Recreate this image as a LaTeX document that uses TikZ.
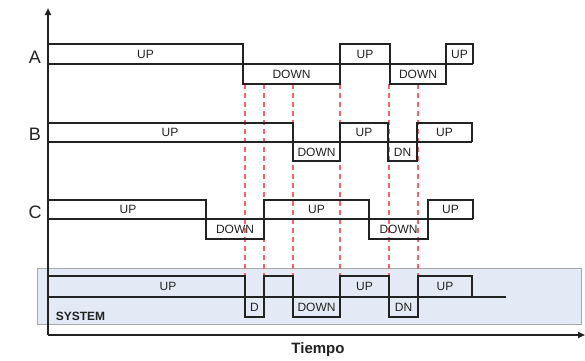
\documentclass[tikz,border=0pt]{standalone}
\usepackage{fontspec}
\setmainfont{Liberation Sans}
\usetikzlibrary{arrows.meta}
\definecolor{sysfill}{HTML}{E3EAF5}
\definecolor{sysborder}{HTML}{A8A8A8}
\definecolor{guide}{HTML}{F06565}
\definecolor{ink}{HTML}{222222}
\tikzset{
  sig/.style={draw=ink, line width=1.4pt, line join=miter},
  axisline/.style={draw=ink, line width=1.8pt, -{Triangle[length=7pt,width=6pt]}},
  guideline/.style={draw=guide, line width=1.1pt, dash pattern=on 5pt off 4pt},
  lbl/.style={inner sep=0pt, font=\fontsize{12}{12}\selectfont, text=ink},
  rowlbl/.style={inner sep=0pt, font=\fontsize{18}{18}\selectfont, text=ink},
}
\begin{document}
\begin{tikzpicture}[x=1pt,y=-1pt]
\useasboundingbox (0,0) rectangle (585,360);
\fill[white] (0,0) rectangle (585,360);

% system background
\draw[sysborder, fill=sysfill, line width=0.8pt] (37,268) rectangle (581,324);

% guide lines
\foreach \gx in {245,264,293,340,389,418}
  \draw[guideline] (\gx,84) coordinate (g\gx a) -- (\gx,276) coordinate (g\gx b);

% row A
\node[rowlbl] (lA) at (35,57) {A};
\draw[sig] (48,64) -- (473,64);
\draw[sig] (48,44) -- (243,44) -- (243,84) -- (340,84) -- (340,44) -- (390,44) -- (390,84) -- (446,84) -- (446,44) -- (473,44) -- (473,64);
\node[lbl] (a1) at (145.5,54) {UP};
\node[lbl] (a2) at (291.5,74) {DOWN};
\node[lbl] (a3) at (365,54) {UP};
\node[lbl] (a4) at (418,74) {DOWN};
\node[lbl] (a5) at (459.5,54) {UP};

% row B
\node[rowlbl] (lB) at (35,134) {B};
\draw[sig] (48,142) -- (472,142);
\draw[sig] (48,123) -- (293,123) -- (293,161) -- (340,161) -- (340,123) -- (388,123) -- (388,161) -- (417,161) -- (417,123) -- (472,123) -- (472,142);
\node[lbl] (b1) at (170,132) {UP};
\node[lbl] (b2) at (316.5,152) {DOWN};
\node[lbl] (b3) at (364,132) {UP};
\node[lbl] (b4) at (402.5,152) {DN};
\node[lbl] (b5) at (444.5,132) {UP};

% row C
\node[rowlbl] (lC) at (35,212) {C};
\draw[sig] (48,219) -- (473,219);
\draw[sig] (48,200) -- (206,200) -- (206,239) -- (264,239) -- (264,200) -- (369,200) -- (369,239) -- (428,239) -- (428,200) -- (473,200) -- (473,219);
\node[lbl] (c1) at (128,209) {UP};
\node[lbl] (c2) at (235,229) {DOWN};
\node[lbl] (c3) at (316.5,209) {UP};
\node[lbl] (c4) at (398.5,229) {DOWN};
\node[lbl] (c5) at (450.5,209) {UP};

% system
\draw[sig] (48,297) -- (506,297);
\draw[sig] (48,276) -- (245,276) -- (245,317) -- (264,317) -- (264,276) -- (293,276) -- (293,317) -- (340,317) -- (340,276) -- (389,276) -- (389,317) -- (418,317) -- (418,276) -- (472,276) -- (472,297);
\node[lbl] (s1) at (168,286) {UP};
\node[lbl] (s2) at (254.5,307) {D};
\node[lbl] (s3) at (316.5,307) {DOWN};
\node[lbl] (s4) at (364.5,286) {UP};
\node[lbl] (s5) at (403.5,307) {DN};
\node[lbl] (s6) at (445,286) {UP};
\node[inner sep=0pt, font=\bfseries\fontsize{12}{12}\selectfont, text=ink] (sys) at (80.5,316) {SYSTEM};

% axes
\coordinate (origin) at (48,335);
\coordinate (ytip) at (48,8);
\coordinate (xtip) at (585,335);
\draw[axisline] (origin) -- (ytip);
\draw[axisline] (origin) -- (xtip);
\node[inner sep=0pt, font=\bfseries\fontsize{15}{15}\selectfont, text=ink] (tiempo) at (318,350) {Tiempo};
\end{tikzpicture}
\end{document}
